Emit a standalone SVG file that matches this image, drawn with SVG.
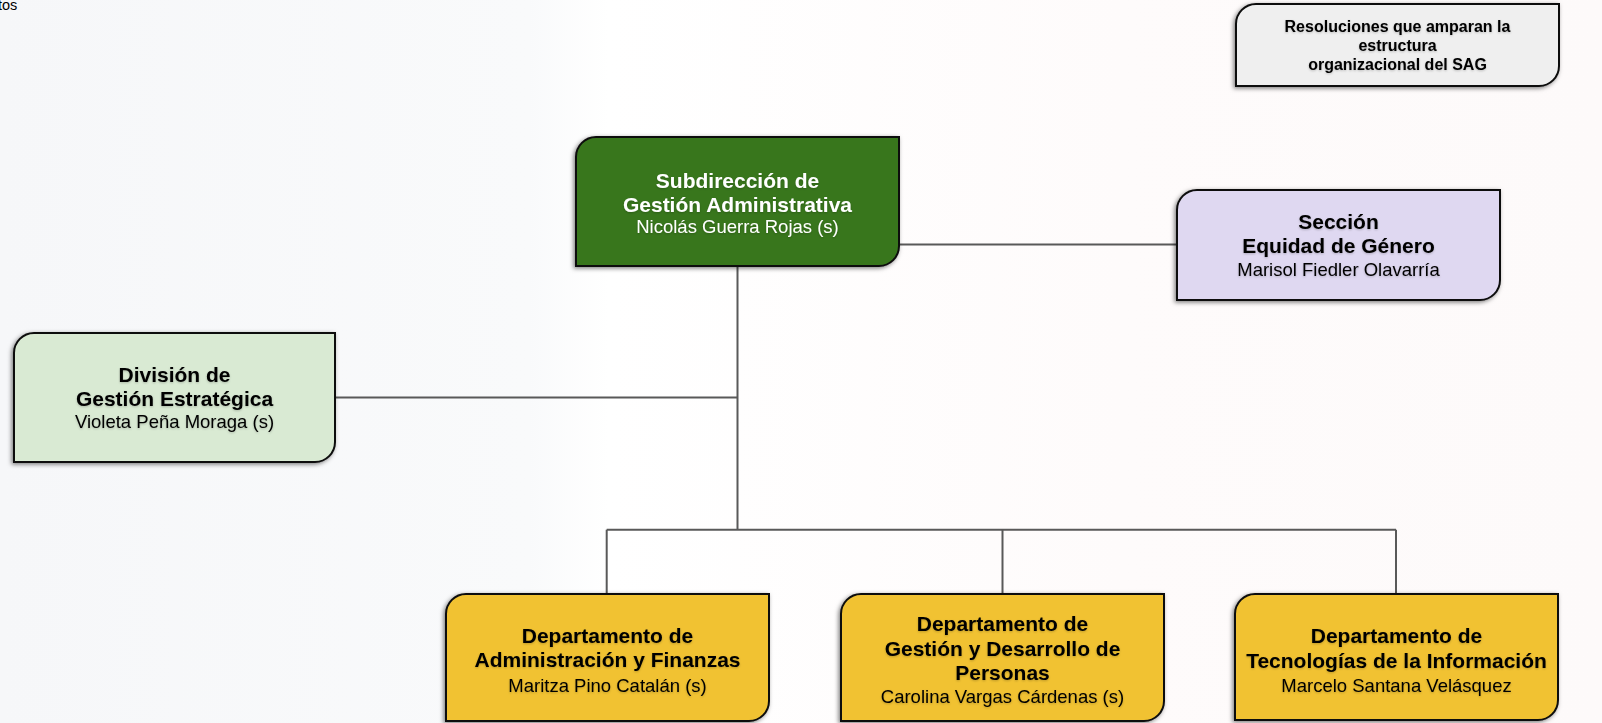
<svg xmlns="http://www.w3.org/2000/svg" width="1602" height="723" viewBox="0 0 1602 723">
<defs>
<linearGradient id="bg" x1="0" y1="0" x2="1" y2="0">
<stop offset="0" stop-color="#f6f7f9"/>
<stop offset="0.33" stop-color="#f9fafb"/>
<stop offset="0.38" stop-color="#ffffff"/>
<stop offset="0.7" stop-color="#fefbfb"/>
<stop offset="1" stop-color="#fdfafa"/>
</linearGradient>
<filter id="sh" x="-10%" y="-10%" width="120%" height="130%">
<feDropShadow dx="-1.5" dy="1.5" stdDeviation="2" flood-color="#000" flood-opacity="0.5"/>
</filter>
<filter id="tsh" x="-5%" y="-30%" width="110%" height="160%">
<feDropShadow dx="0" dy="1" stdDeviation="1.3" flood-color="#000" flood-opacity="0.22"/>
</filter>
</defs>
<style>
.box{stroke:#0d0d0d;stroke-width:2;filter:url(#sh)}
.t{font-family:"Liberation Sans",Arial,sans-serif;text-anchor:middle;fill:#000;filter:url(#tsh)}
.b{font-weight:bold;font-size:21px}
.r{font-size:18.5px}
.s{font-weight:bold;font-size:16px}
.w{fill:#fff}
.con{fill:none;stroke:#595959;stroke-width:2}
</style>
<rect x="0" y="0" width="1602" height="723" fill="url(#bg)"/>
<text x="-2" y="10" font-family="'Liberation Sans',Arial,sans-serif" font-size="14.5" fill="#000">tos</text>

<g id="connectors">
<path class="con" d="M899,244.5 H1177"/>
<path class="con" d="M737.5,266 V529.7"/>
<path class="con" d="M335,397.5 H737.5"/>
<path class="con" d="M606.7,529.7 H1396"/>
<path class="con" d="M606.7,529.7 V594"/>
<path class="con" d="M1002.5,529.7 V594"/>
<path class="con" d="M1396,529.7 V594"/>
</g>

<g id="resoluciones">
<path class="box" fill="#efefef" d="M1256,4 H1559 V66 A20 20 0 0 1 1539,86 H1236 V24 A20 20 0 0 1 1256,4 Z"/>
<text class="t s" x="1397.5" y="31.7">Resoluciones que amparan la</text>
<text class="t s" x="1397.5" y="50.7">estructura</text>
<text class="t s" x="1397.5" y="70">organizacional del SAG</text>
</g>

<g id="subdireccion">
<path class="box" fill="#38761d" d="M596,137 H899 V246 A20 20 0 0 1 879,266 H576 V157 A20 20 0 0 1 596,137 Z"/>
<text class="t b w" x="737.5" y="188">Subdirección de</text>
<text class="t b w" x="737.5" y="212">Gestión Administrativa</text>
<text class="t r w" x="737.5" y="233">Nicolás Guerra Rojas (s)</text>
</g>

<g id="seccion">
<path class="box" fill="#dfd8f1" d="M1197,190 H1500 V280 A20 20 0 0 1 1480,300 H1177 V210 A20 20 0 0 1 1197,190 Z"/>
<text class="t b" x="1338.5" y="229">Sección</text>
<text class="t b" x="1338.5" y="253">Equidad de Género</text>
<text class="t r" x="1338.5" y="275.5">Marisol Fiedler Olavarría</text>
</g>

<g id="division">
<path class="box" fill="#d9ead3" d="M34,333 H335 V442 A20 20 0 0 1 315,462 H14 V353 A20 20 0 0 1 34,333 Z"/>
<text class="t b" x="174.5" y="381.7">División de</text>
<text class="t b" x="174.5" y="405.7">Gestión Estratégica</text>
<text class="t r" x="174.5" y="428">Violeta Peña Moraga (s)</text>
</g>

<g id="dep-administracion">
<path class="box" fill="#f1c232" d="M466,594 H769 V701 A20 20 0 0 1 749,721 H446 V614 A20 20 0 0 1 466,594 Z"/>
<text class="t b" x="607.5" y="642.7">Departamento de</text>
<text class="t b" x="607.5" y="667">Administración y Finanzas</text>
<text class="t r" x="607.5" y="692">Maritza Pino Catalán (s)</text>
</g>

<g id="dep-personas">
<path class="box" fill="#f1c232" d="M861,594 H1164 V701 A20 20 0 0 1 1144,721 H841 V614 A20 20 0 0 1 861,594 Z"/>
<text class="t b" x="1002.5" y="630.5">Departamento de</text>
<text class="t b" x="1002.5" y="655.5">Gestión y Desarrollo de</text>
<text class="t b" x="1002.5" y="680">Personas</text>
<text class="t r" x="1002.5" y="702.5">Carolina Vargas Cárdenas (s)</text>
</g>

<g id="dep-tecnologias">
<path class="box" fill="#f1c232" d="M1255,594 H1558 V700 A20 20 0 0 1 1538,720 H1235 V614 A20 20 0 0 1 1255,594 Z"/>
<text class="t b" x="1396.5" y="643">Departamento de</text>
<text class="t b" x="1396.5" y="667.5">Tecnologías de la Información</text>
<text class="t r" x="1396.5" y="692">Marcelo Santana Velásquez</text>
</g>
</svg>
